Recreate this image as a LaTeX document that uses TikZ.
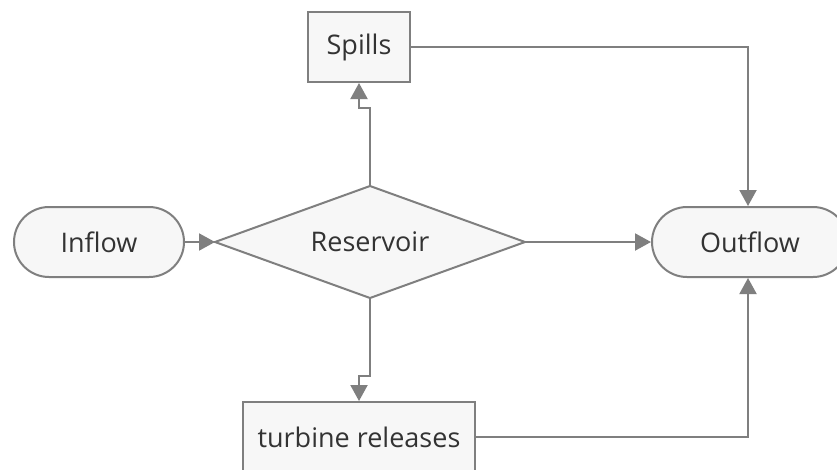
\documentclass[tikz,border=0pt]{standalone}
\usepackage{fontspec}
\setmainfont{Open Sans}
\usetikzlibrary{arrows.meta,shapes.geometric}
\definecolor{linegray}{HTML}{7F7F7F}
\definecolor{boxfill}{HTML}{F7F7F7}
\definecolor{txt}{HTML}{333333}
\begin{document}
\begin{tikzpicture}[x=1pt,y=-1pt,
  lbl/.style={text=txt,font=\fontsize{27}{31}\selectfont},
  base/.style={draw=linegray,line width=2pt,fill=boxfill,lbl,inner sep=0pt},
  rectbox/.style={base,rectangle},
  pill/.style={base,rectangle,rounded corners=35pt},
  conn/.style={draw=linegray,line width=2pt,-{Triangle[length=16pt,width=17pt]}}]
\useasboundingbox (0,0) rectangle (837,469);
\fill[white] (0,0) rectangle (837,469);
\node[rectbox,minimum width=102pt,minimum height=70pt] (spills) at (359,47) {Spills};
\node[pill,minimum width=170pt,minimum height=70pt] (inflow) at (99,242) {Inflow};
\node[pill,minimum width=196pt,minimum height=70pt] (outflow) at (750,242) {Outflow};
\node[rectbox,minimum width=232pt,minimum height=70pt] (turb) at (359,437) {turbine releases};
\draw[draw=linegray,line width=2pt,fill=boxfill] (215,242) coordinate (rl) -- (370,186) coordinate (rt) -- (525,242) coordinate (rr) -- (370,298) coordinate (rb) -- cycle;
\node[lbl] (res) at (370,242) {Reservoir};
\draw[conn] (inflow.east) -- (rl);
\draw[conn] (rt) -- (370,108) -- (359,108) -- (spills.south);
\draw[conn] (rr) -- (outflow.west);
\draw[conn] (rb) -- (370,376) -- (359,376) -- (turb.north);
\draw[conn] (spills.east) -- (spills.east -| 748,0) -- (outflow.north -| 748,0);
\draw[conn] (turb.east) -- (turb.east -| 748,0) -- (outflow.south -| 748,0);
\end{tikzpicture}
\end{document}
